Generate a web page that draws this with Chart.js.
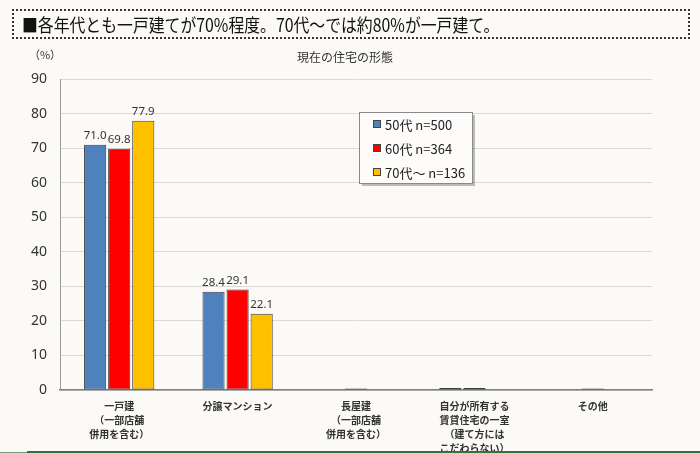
<!DOCTYPE html>
<html>
<head>
<meta charset="utf-8">
<script src="https://cdn.jsdelivr.net/npm/chart.js@4/dist/chart.umd.min.js"></script>
<style>
  html, body { margin:0; padding:0; background:#fcfaf7; }
  #wrap { position:relative; width:700px; height:453px; overflow:hidden; background:#fcfaf7; }
  #header { position:absolute; left:12px; top:9px; width:674px; height:26px; border:2px dotted #333; box-sizing:content-box; }
  #header span { position:absolute; left:8px; top:1px; font-family:"Noto Sans CJK JP", sans-serif; font-size:18px; line-height:24px; color:#111; white-space:nowrap; transform-origin:left center; transform:scaleX(0.88); }
  #bottombar { position:absolute; left:27px; right:0; top:451px; height:2px; background:#3c6e3c; }
  #bottomleft { position:absolute; left:0; width:27px; top:452px; height:1px; background:#7a9a7a; }
  canvas { position:absolute; left:0; top:0; }
</style>
</head>
<body>
<div id="wrap">
  <canvas id="c" width="700" height="453"></canvas>
  <div id="header"><span>■各年代とも一戸建てが70%程度。70代～では約80%が一戸建て。</span></div>
  <div id="bottombar"></div>
  <div id="bottomleft"></div>
</div>
<script>
const categories = [
  ["一戸建", "（一部店舗", "併用を含む）"],
  "分譲マンション",
  ["長屋建", "（一部店舗", "併用を含む）"],
  ["自分が所有する", "賃貸住宅の一室", "（建て方には", "こだわらない）"],
  "その他"
];
const seriesNames = ["50代 n=500", "60代 n=364", "70代～ n=136"];
const values50 = [71.0, 28.4, 0, 0.6, 0];
const values60 = [69.8, 29.1, 0.4, 0.6, 0.4];
const values70 = [77.9, 22.1, 0, 0, 0];
const yTickMin = 0, yTickMax = 90, yTickStep = 10;
const chartTitle = "現在の住宅の形態";
const unitLabel = "（%）";

const colors = ["#4f81bd", "#ff0000", "#ffc000"];

const labelPlugin = {
  id: "extras",
  afterDatasetsDraw(chart) {
    const ctx = chart.ctx;
    ctx.save();
    ctx.font = "11.5px 'Noto Sans', sans-serif";
    ctx.fillStyle = "#333";
    ctx.textAlign = "center";
    ctx.textBaseline = "bottom";
    chart.data.datasets.forEach((ds, i) => {
      const meta = chart.getDatasetMeta(i);
      meta.data.forEach((bar, j) => {
        const v = ds.data[j];
        if (v >= 1) ctx.fillText(v.toFixed(1), bar.x, bar.y - 3);
      });
    });
    ctx.restore();
  },
  afterDraw(chart) {
    const ctx = chart.ctx;
    ctx.save();
    ctx.fillStyle = "#333";
    ctx.font = "12px 'Noto Sans CJK JP', sans-serif";
    ctx.textAlign = "center";
    ctx.textBaseline = "middle";
    ctx.fillText(chartTitle, 345, 57);
    ctx.font = "11px 'Noto Sans CJK JP', sans-serif";
    ctx.fillText(unitLabel, 45, 55);
    // legend box
    const bx = 359, by = 112, bw = 113, bh = 71;
    ctx.fillStyle = "rgba(0,0,0,0.25)";
    ctx.fillRect(bx + 3, by + 3, bw, bh);
    ctx.fillStyle = "#fdfcfa";
    ctx.fillRect(bx, by, bw, bh);
    ctx.strokeStyle = "#8a8a8a";
    ctx.lineWidth = 1;
    ctx.strokeRect(bx + 0.5, by + 0.5, bw, bh);
    ctx.font = "13px 'Noto Sans CJK JP', sans-serif";
    ctx.textAlign = "left";
    chart.data.datasets.forEach((ds, i) => {
      const cy = by + 12 + i * 24;
      ctx.fillStyle = ds.backgroundColor;
      ctx.fillRect(373, cy - 4, 8, 8);
      ctx.strokeStyle = "#444";
      ctx.strokeRect(373.5, cy - 3.5, 7, 7);
      ctx.fillStyle = "#222";
      ctx.fillText(ds.label, 385, cy + 1);
    });
    ctx.restore();
  }
};

new Chart(document.getElementById("c"), {
  type: "bar",
  data: {
    labels: categories,
    datasets: [
      { label: seriesNames[0], data: values50, backgroundColor: colors[0] },
      { label: seriesNames[1], data: values60, backgroundColor: colors[1] },
      { label: seriesNames[2], data: values70, backgroundColor: colors[2] }
    ]
  },
  options: {
    responsive: false,
    maintainAspectRatio: false,
    devicePixelRatio: 1,
    animation: false,
    layout: { padding: { top: 79, right: 48, bottom: 0, left: 0 } },
    datasets: {
      bar: {
        categoryPercentage: 0.61,
        barPercentage: 0.92,
        borderColor: "#3f3f3f",
        borderWidth: 1,
        borderSkipped: false
      }
    },
    plugins: {
      legend: { display: false },
      title: { display: false },
      tooltip: { enabled: false }
    },
    scales: {
      x: {
        grid: { display: false, drawTicks: false },
        border: { display: true, color: "#7f7f7f", width: 1.5 },
        ticks: {
          padding: 9,
          maxRotation: 0,
          autoSkip: false,
          color: "#333",
          font: { family: "'Noto Sans CJK JP', sans-serif", size: 10, weight: "bold", lineHeight: 1.4 }
        },
        afterFit(s) { s.height = 63; }
      },
      y: {
        min: yTickMin,
        max: yTickMax,
        grid: { color: "#d9d9d9", drawTicks: false, lineWidth: 1 },
        border: { display: true, color: "#9a9a9a", width: 1 },
        ticks: {
          stepSize: yTickStep,
          padding: 13,
          color: "#333",
          font: { family: "'Noto Sans', sans-serif", size: 14 }
        },
        afterFit(s) { s.width = 60; }
      }
    }
  },
  plugins: [labelPlugin]
});
</script>
</body>
</html>
